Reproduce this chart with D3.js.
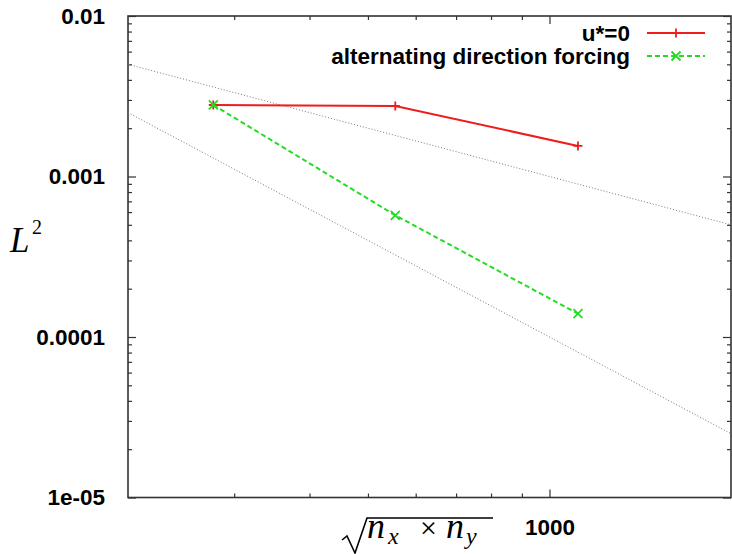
<!DOCTYPE html>
<html>
<head>
<meta charset="utf-8">
<script src="https://cdn.jsdelivr.net/npm/d3@7/dist/d3.min.js"></script>
<style>
    body { margin: 0; background: #fff; }
    svg { display: block; }
</style>
</head>
<body>
<script>
    // data
    var gridSize = [277, 555, 1115];                 // sqrt(nx*ny)
    var errZero = [0.00279, 0.00275, 0.00155];       // u*=0
    var errAlt = [0.00279, 0.000573, 0.0001397];     // alternating direction forcing
    var seriesNames = ["u*=0", "alternating direction forcing"];
    // guide lines c*(200/x)^p
    var guideCoef = [0.005, 0.0025];
    var guideOrder = [1, 2];
    var xMajor = [1000];
    var xMinor = [300, 400, 500, 600, 700, 800, 900];
    var yMajor = [1e-5, 1e-4, 1e-3, 1e-2];
    var yMajorLabels = ["1e-05", "0.0001", "0.001", "0.01"];

    var width = 732, height = 554;
    var margin = {"top": 16, "bottom": 56.5, "left": 128, "right": 1};

    var svg = d3.select("body").append("svg")
        .attr("width", width)
        .attr("height", height);

    var xScale = d3.scaleLog()
        .domain([200, 2000])
        .range([margin.left, width - margin.right]);

    var yScale = d3.scaleLog()
        .domain([1e-5, 1e-2])
        .range([height - margin.bottom, margin.top]);

    var yMinor = [];
    yMajor.slice(0, 3).forEach(function(d) {
        for (var k = 2; k <= 9; k++) yMinor.push(d * k);
    });

    var font = "'Liberation Sans', Arial, Helvetica, sans-serif";
    var fontSize = "22.5px";
    var plotW = xScale.range()[1] - xScale.range()[0];
    var plotH = yScale.range()[0] - yScale.range()[1];

    //ticks, pointing inwards on all four sides
    function ticks(axis, tr) {
        var g = svg.append("g").attr("transform", tr).call(axis);
        g.select(".domain").remove();
        g.selectAll("line").style("stroke", "#333").style("stroke-width", "1.2px");
        g.selectAll("text")
            .style("font-family", font)
            .style("font-size", fontSize)
            .style("font-weight", "bold")
            .style("fill", "#000");
        return g;
    }
    var bottomY = yScale.range()[0], topY = yScale.range()[1];
    var leftX = xScale.range()[0], rightX = xScale.range()[1];

    ticks(d3.axisBottom(xScale).tickValues(xMajor).tickSizeInner(-8).tickSizeOuter(0).tickPadding(22).tickFormat(d3.format("d")),
        "translate(0," + bottomY + ")");
    ticks(d3.axisBottom(xScale).tickValues(xMinor).tickSizeInner(-4).tickSizeOuter(0).tickFormat(""), "translate(0," + bottomY + ")");
    ticks(d3.axisTop(xScale).tickValues(xMajor).tickSizeInner(-8).tickSizeOuter(0).tickFormat(""), "translate(0," + topY + ")");
    ticks(d3.axisTop(xScale).tickValues(xMinor).tickSizeInner(-4).tickSizeOuter(0).tickFormat(""), "translate(0," + topY + ")");

    ticks(d3.axisLeft(yScale).tickValues(yMajor).tickSizeInner(-8).tickSizeOuter(0).tickPadding(23)
        .tickFormat(function(d, i) { return yMajorLabels[i]; }), "translate(" + leftX + ",0)");
    ticks(d3.axisLeft(yScale).tickValues(yMinor).tickSizeInner(-4).tickSizeOuter(0).tickFormat(""), "translate(" + leftX + ",0)");
    ticks(d3.axisRight(yScale).tickValues(yMajor).tickSizeInner(-8).tickSizeOuter(0).tickFormat(""), "translate(" + rightX + ",0)");
    ticks(d3.axisRight(yScale).tickValues(yMinor).tickSizeInner(-4).tickSizeOuter(0).tickFormat(""), "translate(" + rightX + ",0)");

    //frame
    svg.append("rect")
        .attr("x", leftX)
        .attr("y", topY)
        .attr("width", plotW)
        .attr("height", plotH)
        .attr("fill", "none")
        .attr("stroke", "#333")
        .attr("stroke-width", 1.6);

    //guide lines
    var line = d3.line()
        .x(d => xScale(d[0]))
        .y(d => yScale(d[1]));

    svg.append("g")
        .attr("id", "guides")
        .selectAll("path")
        .data(guideCoef)
        .enter()
        .append("path")
        .attr("d", function(c, i) {
            var x0 = xScale.domain()[0];
            return line(xScale.domain().map(function(x) {
                return [x, c * Math.pow(x0 / x, guideOrder[i])];
            }));
        })
        .attr("fill", "none")
        .attr("stroke", "#777")
        .attr("stroke-width", 1)
        .attr("stroke-dasharray", "1,2");

    //series
    var series = [
        {name: seriesNames[0], values: errZero, color: "#ee1c1c", dash: null, marker: "plus"},
        {name: seriesNames[1], values: errAlt, color: "#22dd22", dash: "5,3", marker: "cross"}
    ];

    function marker(g, type, cx, cy, color) {
        var s = 4.5;
        var p = type == "plus"
            ? "M" + (cx - s) + "," + cy + "H" + (cx + s) + "M" + cx + "," + (cy - s) + "V" + (cy + s)
            : "M" + (cx - s) + "," + (cy - s) + "L" + (cx + s) + "," + (cy + s) + "M" + (cx - s) + "," + (cy + s) + "L" + (cx + s) + "," + (cy - s);
        g.append("path").attr("d", p).attr("stroke", color).attr("stroke-width", 1.8).attr("fill", "none");
    }

    series.forEach(function(s, si) {
        var g = svg.append("g");
        var pts = gridSize.map((x, i) => [x, s.values[i]]);
        g.append("path")
            .attr("d", line(pts))
            .attr("fill", "none")
            .attr("stroke", s.color)
            .attr("stroke-width", 2)
            .attr("stroke-dasharray", s.dash);
        pts.forEach(function(p) {
            marker(g, s.marker, xScale(p[0]), yScale(p[1]), s.color);
        });

        //legend
        var ly = 33 + si * 23;
        g.append("text")
            .attr("x", 630)
            .attr("y", ly + 8)
            .attr("text-anchor", "end")
            .style("font-family", font)
            .style("font-size", fontSize)
            .style("font-weight", "bold")
            .text(s.name);
        g.append("line")
            .attr("x1", 647).attr("x2", 705)
            .attr("y1", ly).attr("y2", ly)
            .attr("stroke", s.color)
            .attr("stroke-width", 2)
            .attr("stroke-dasharray", s.dash);
        marker(g, s.marker, 676, ly, s.color);
    });

    //axis titles
    var serif = "'Liberation Serif', 'Times New Roman', serif";
    svg.append("text")
        .attr("x", 10)
        .attr("y", 252)
        .style("font-family", serif)
        .style("font-style", "italic")
        .style("font-size", "35px")
        .text("L");
    svg.append("text")
        .attr("x", 32)
        .attr("y", 234)
        .style("font-family", serif)
        .style("font-size", "20px")
        .text("2");

    var xt = svg.append("g").attr("transform", "translate(342,0)");
    xt.append("path")
        .attr("d", "M0,540 L5,536 L13,553 L25,518 L151,518")
        .attr("fill", "none")
        .attr("stroke", "#000")
        .attr("stroke-width", 1.6)
        .attr("stroke-linejoin", "miter");
    var pieces = [
        {t: "n", x: 25, y: 538, size: 36, italic: true},
        {t: "x", x: 46, y: 544, size: 24, italic: true},
        {t: "×", x: 78, y: 538, size: 30, italic: false},
        {t: "n", x: 104, y: 538, size: 36, italic: true},
        {t: "y", x: 124, y: 544, size: 24, italic: true}
    ];
    xt.selectAll("text.piece")
        .data(pieces)
        .enter()
        .append("text")
        .attr("class", "piece")
        .attr("x", d => d.x)
        .attr("y", d => d.y)
        .style("font-family", serif)
        .style("font-size", d => d.size + "px")
        .style("font-style", d => d.italic ? "italic" : "normal")
        .text(d => d.t);
</script>
</body>
</html>
